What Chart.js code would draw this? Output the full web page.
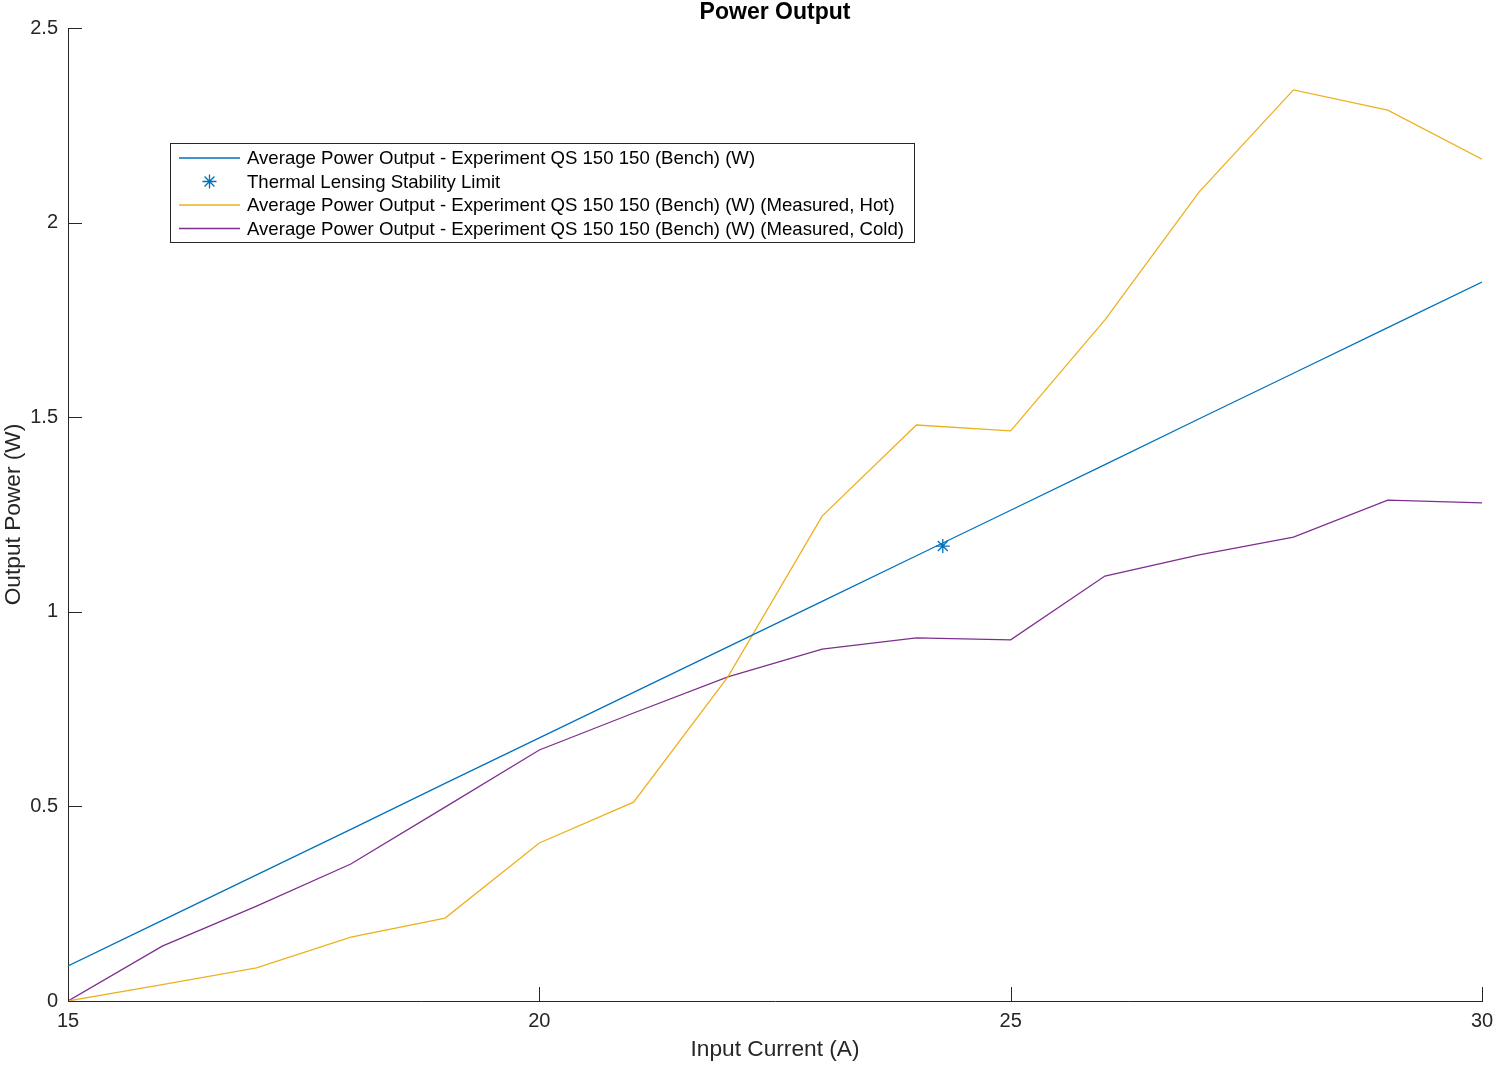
<!DOCTYPE html>
<html>
<head>
<meta charset="utf-8">
<script src="https://cdn.jsdelivr.net/npm/chart.js@4.4.0/dist/chart.umd.min.js"></script>
<style>
  html, body { margin: 0; padding: 0; background: #fff; }
  #wrap { width: 1496px; height: 1065px; }
</style>
</head>
<body>
<div id="wrap"><canvas id="powerChart" width="1496" height="1065"></canvas></div>
<script>
// Input current (A)
const currents = [15, 16, 17, 18, 19, 20, 21, 22, 23, 24, 25, 26, 27, 28, 29, 30];

// Output power series (W)
const benchPower = [0.090, 0.207, 0.324, 0.441, 0.559, 0.676, 0.793, 0.910, 1.027, 1.144, 1.261, 1.378, 1.496, 1.613, 1.730, 1.847];
const hotPower   = [0.000, 0.042, 0.085, 0.164, 0.213, 0.406, 0.511, 0.833, 1.246, 1.480, 1.465, 1.750, 2.079, 2.341, 2.289, 2.163];
const coldPower  = [0.000, 0.141, 0.244, 0.352, 0.498, 0.645, 0.740, 0.833, 0.904, 0.933, 0.928, 1.092, 1.146, 1.192, 1.287, 1.280];

// Thermal lensing stability limit
const limitCurrent = [24.28];
const limitPower = [1.169];

// Tick labels
const xTicks = [15, 20, 25, 30];
const yTicks = [0, 0.5, 1, 1.5, 2, 2.5];

const labels = [
    'Average Power Output - Experiment QS 150 150 (Bench) (W)',
    'Thermal Lensing Stability Limit',
    'Average Power Output - Experiment QS 150 150 (Bench) (W) (Measured, Hot)',
    'Average Power Output - Experiment QS 150 150 (Bench) (W) (Measured, Cold)'
];

const BLUE = '#0072BD';
const YELLOW = '#EDB120';
const PURPLE = '#7E2F8E';
const AXIS = '#262626';
const FONT = '"Liberation Sans", Arial, Helvetica, sans-serif';

function toPoints(xs, ys) {
    return xs.map((x, i) => ({ x: x, y: ys[i] }));
}

// Title, inward tick marks and MATLAB-style legend box
const matlabDecor = {
    id: 'matlabDecor',
    afterDraw(chart) {
        const ctx = chart.ctx;
        const area = chart.chartArea;
        const xs = chart.scales.x;
        const ys = chart.scales.y;
        ctx.save();

        // title
        ctx.fillStyle = '#000';
        ctx.font = 'bold 23px ' + FONT;
        ctx.textAlign = 'center';
        ctx.textBaseline = 'middle';
        ctx.fillText('Power Output', (area.left + area.right) / 2, 13);

        // inward ticks
        ctx.strokeStyle = AXIS;
        ctx.lineWidth = 1;
        ctx.beginPath();
        xTicks.forEach(v => {
            const px = Math.round(xs.getPixelForValue(v)) + 0.5;
            ctx.moveTo(px, area.bottom);
            ctx.lineTo(px, area.bottom - 14);
        });
        yTicks.forEach(v => {
            const py = Math.round(ys.getPixelForValue(v)) + 0.5;
            ctx.moveTo(area.left, py);
            ctx.lineTo(area.left + 14, py);
        });
        ctx.stroke();

        // legend
        const lx = 170.5, ly = 143.5, lw = 744, lh = 99;
        ctx.fillStyle = '#fff';
        ctx.fillRect(lx, ly, lw, lh);
        ctx.strokeStyle = AXIS;
        ctx.strokeRect(lx, ly, lw, lh);
        ctx.font = '18.6px ' + FONT;
        ctx.textAlign = 'left';
        ctx.textBaseline = 'middle';
        chart.data.datasets.forEach((ds, i) => {
            const y = 158 + i * 23.5;
            ctx.strokeStyle = ds.borderColor;
            ctx.lineWidth = 1.3;
            if (ds.showLine === false) {
                Chart.helpers.drawPoint(ctx, { pointStyle: 'star', radius: 7, rotation: 0, borderWidth: 1.3 }, 209.5, y);
            } else {
                ctx.beginPath();
                ctx.moveTo(179, y);
                ctx.lineTo(240, y);
                ctx.stroke();
            }
            ctx.fillStyle = '#000';
            ctx.fillText(ds.label, 247, y + 1);
        });
        ctx.restore();
    }
};

const ctx = document.getElementById('powerChart').getContext('2d');
new Chart(ctx, {
    type: 'line',
    data: {
        datasets: [
            {
                label: labels[0],
                data: toPoints(currents, benchPower),
                borderColor: BLUE,
                borderWidth: 1.3,
                pointRadius: 0,
                tension: 0
            },
            {
                label: labels[1],
                data: toPoints(limitCurrent, limitPower),
                borderColor: BLUE,
                backgroundColor: BLUE,
                showLine: false,
                pointStyle: 'star',
                pointRadius: 7,
                pointBorderWidth: 1.3
            },
            {
                label: labels[2],
                data: toPoints(currents, hotPower),
                borderColor: YELLOW,
                borderWidth: 1.3,
                pointRadius: 0,
                tension: 0
            },
            {
                label: labels[3],
                data: toPoints(currents, coldPower),
                borderColor: PURPLE,
                borderWidth: 1.3,
                pointRadius: 0,
                tension: 0
            }
        ]
    },
    options: {
        responsive: false,
        animation: false,
        events: [],
        layout: {
            padding: { top: 28, right: 14, left: 0, bottom: 0 }
        },
        plugins: {
            legend: { display: false },
            title: { display: false },
            tooltip: { enabled: false }
        },
        scales: {
            x: {
                type: 'linear',
                min: 15,
                max: 30,
                afterBuildTicks: scale => { scale.ticks = xTicks.map(v => ({ value: v })); },
                afterFit: scale => {
                    scale.height = 64;
                    scale.paddingLeft = 0;
                    scale.paddingRight = 0;
                },
                grid: { display: false, drawTicks: false },
                border: { display: true, color: AXIS, width: 1 },
                ticks: {
                    padding: 8,
                    color: AXIS,
                    font: { family: FONT, size: 20 },
                    maxRotation: 0,
                    callback: v => String(v)
                },
                title: {
                    display: true,
                    text: 'Input Current (A)',
                    color: AXIS,
                    font: { family: FONT, size: 22.7 },
                    padding: { top: 0, bottom: 2 }
                }
            },
            y: {
                type: 'linear',
                min: 0,
                max: 2.5,
                afterBuildTicks: scale => { scale.ticks = yTicks.map(v => ({ value: v })); },
                afterFit: scale => {
                    scale.width = 68;
                    scale.paddingTop = 0;
                    scale.paddingBottom = 0;
                },
                grid: { display: false, drawTicks: false },
                border: { display: true, color: AXIS, width: 1 },
                ticks: {
                    padding: 10,
                    color: AXIS,
                    font: { family: FONT, size: 20 },
                    callback: v => String(v)
                },
                title: {
                    display: true,
                    text: 'Output Power (W)',
                    color: AXIS,
                    font: { family: FONT, size: 22.7 },
                    padding: { top: 0, bottom: 0 }
                }
            }
        }
    },
    plugins: [matlabDecor]
});
</script>
</body>
</html>
